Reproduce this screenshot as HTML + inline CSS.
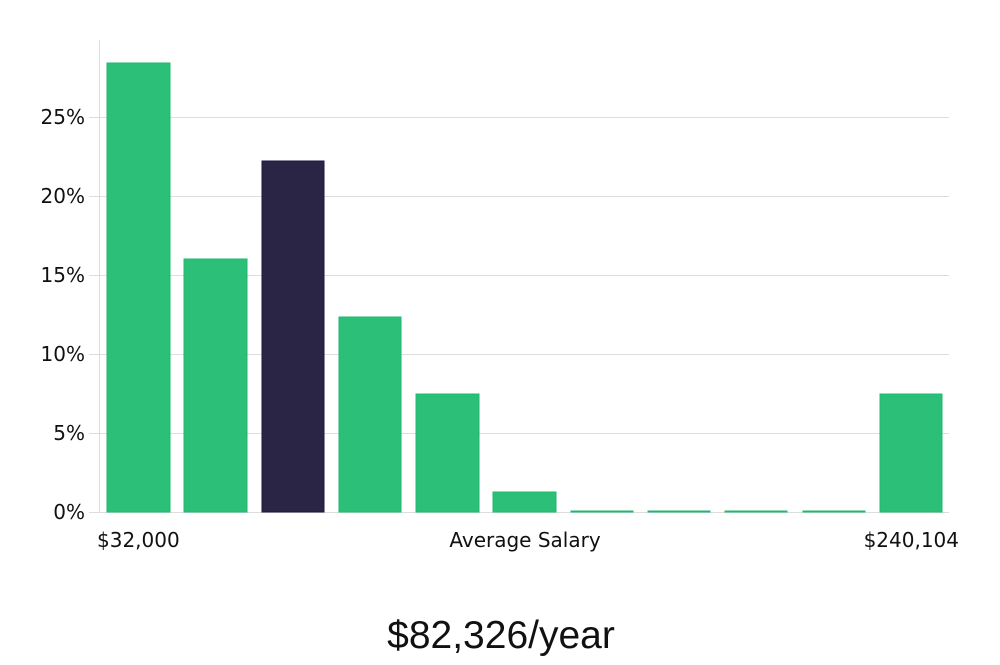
<!DOCTYPE html>
<html><head><style>
body{margin:0;background:#fff;}
svg text{font-family:"DejaVu Sans",sans-serif;fill:#111;}
</style></head><body>
<svg width="1000" height="660" xmlns="http://www.w3.org/2000/svg">
<g stroke="#ddd" stroke-width="1">
<line x1="99" y1="433.5" x2="949" y2="433.5"/>
<line x1="99" y1="354.5" x2="949" y2="354.5"/>
<line x1="99" y1="275.5" x2="949" y2="275.5"/>
<line x1="99" y1="196.5" x2="949" y2="196.5"/>
<line x1="99" y1="117.5" x2="949" y2="117.5"/>
<line x1="99.5" y1="40" x2="99.5" y2="512"/>
<line x1="89" y1="512.5" x2="949" y2="512.5"/>
<line x1="89" y1="433.5" x2="99" y2="433.5"/>
<line x1="89" y1="354.5" x2="99" y2="354.5"/>
<line x1="89" y1="275.5" x2="99" y2="275.5"/>
<line x1="89" y1="196.5" x2="99" y2="196.5"/>
<line x1="89" y1="117.5" x2="99" y2="117.5"/>
</g>
<g fill="#2bbf78" stroke="#1fb86e" stroke-width="1">
<rect x="107" y="63" width="63" height="449"/>
<rect x="184" y="259" width="63" height="253"/>
<rect x="339" y="317" width="62" height="195"/>
<rect x="416" y="394" width="63" height="118"/>
<rect x="493" y="492" width="63" height="20"/>
<rect x="571" y="511" width="62" height="1"/>
<rect x="648" y="511" width="62" height="1"/>
<rect x="725" y="511" width="62" height="1"/>
<rect x="803" y="511" width="62" height="1"/>
<rect x="880" y="394" width="62" height="118"/>
</g>
<rect x="262" y="161" width="62" height="351" fill="#2a2545" stroke="#1a1640"/>
<g font-size="20" text-anchor="end">
<text x="85" y="519">0%</text>
<text x="85" y="440">5%</text>
<text x="85" y="361">10%</text>
<text x="85" y="282">15%</text>
<text x="85" y="203">20%</text>
<text x="85" y="124">25%</text>
</g>
<g font-size="20">
<text x="97" y="547">$32,000</text>
<text x="525" y="547" text-anchor="middle">Average Salary</text>
<text x="959" y="547" text-anchor="end">$240,104</text>
</g>
<text x="501" y="648" text-anchor="middle" font-size="39" style="font-family:'Liberation Sans',sans-serif;font-weight:300" fill="#111">$82,326/year</text>
</svg>
</body></html>
